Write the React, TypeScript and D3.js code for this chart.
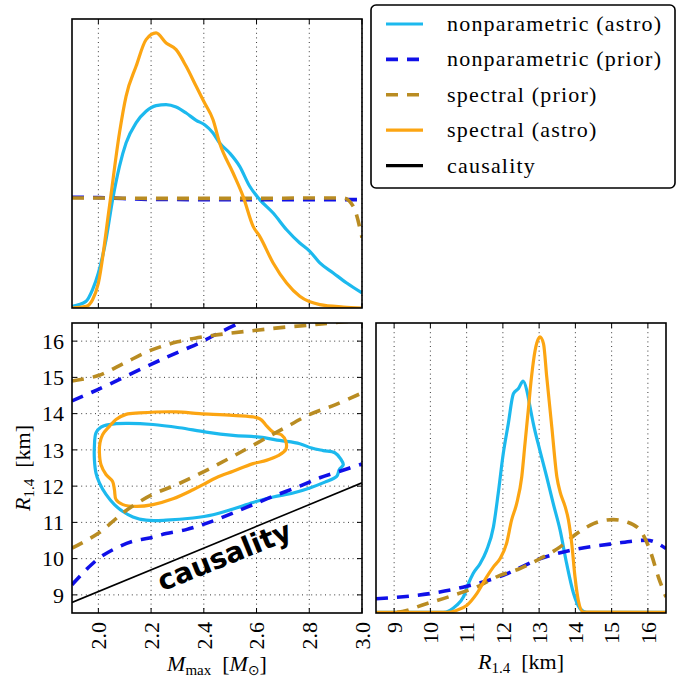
import React from 'react';
import * as d3 from 'd3';

// ---- Marginal posterior of M_max (top panel) ----
const mmaxNonparAstroM = [1.9, 1.953, 1.978, 2.0, 2.029, 2.054, 2.08, 2.105, 2.143, 2.181, 2.219, 2.257, 2.295, 2.333, 2.371, 2.403, 2.435, 2.46, 2.498, 2.536, 2.574, 2.612, 2.663, 2.714, 2.764, 2.802, 2.84, 2.891, 2.942, 3.0];
const mmaxNonparAstroP = [0.015, 0.061, 0.168, 0.321, 0.627, 0.994, 1.299, 1.513, 1.697, 1.804, 1.856, 1.865, 1.843, 1.788, 1.721, 1.681, 1.605, 1.513, 1.421, 1.299, 1.116, 0.994, 0.871, 0.718, 0.596, 0.52, 0.413, 0.321, 0.229, 0.138];
const mmaxSpectralAstroM = [1.9, 1.953, 1.978, 2.0, 2.042, 2.08, 2.105, 2.143, 2.181, 2.219, 2.257, 2.295, 2.333, 2.371, 2.403, 2.435, 2.46, 2.511, 2.549, 2.587, 2.612, 2.663, 2.714, 2.764, 2.84, 2.929, 3.0];
const mmaxSpectralAstroP = [0, 0.015, 0.076, 0.229, 0.932, 1.605, 1.941, 2.216, 2.461, 2.522, 2.43, 2.369, 2.216, 2.033, 1.88, 1.727, 1.513, 1.238, 1.024, 0.749, 0.657, 0.413, 0.229, 0.107, 0.031, 0.009, 0];
const mmaxNonparPriorM = [1.9, 2.0, 2.2, 2.4, 2.6, 2.8, 3.0];
const mmaxNonparPriorP = [1.015, 1.012, 0.996, 0.994, 0.994, 0.994, 0.994];
const mmaxSpectralPriorM = [1.9, 2.0, 2.2, 2.4, 2.6, 2.8, 2.93, 2.967, 3.0];
const mmaxSpectralPriorP = [1.009, 1.009, 1.005, 1.005, 1.005, 1.009, 1.009, 0.932, 0.645];

// ---- Marginal posterior of R_1.4 (right panel) ----
const r14NonparAstroR = [8.5, 10.35, 10.54, 10.72, 10.91, 11.05, 11.18, 11.37, 11.55, 11.74, 11.87, 12.01, 12.15, 12.29, 12.43, 12.56, 12.66, 12.75, 12.84, 13.02, 13.21, 13.39, 13.58, 13.76, 13.95, 14.13, 14.31, 16.5];
const r14NonparAstroP = [0.002, 0.002, 0.009, 0.026, 0.055, 0.101, 0.136, 0.17, 0.216, 0.297, 0.411, 0.549, 0.653, 0.756, 0.774, 0.8, 0.768, 0.71, 0.653, 0.561, 0.469, 0.377, 0.285, 0.17, 0.067, 0.015, 0.002, 0.002];
const r14SpectralAstroR = [8.5, 10.45, 10.72, 11.0, 11.28, 11.55, 11.74, 11.92, 12.1, 12.24, 12.38, 12.52, 12.61, 12.7, 12.79, 12.89, 12.98, 13.02, 13.12, 13.21, 13.35, 13.49, 13.58, 13.72, 13.81, 13.9, 13.99, 14.08, 14.22, 16.5];
const r14SpectralAstroP = [0.002, 0.002, 0.009, 0.026, 0.067, 0.124, 0.159, 0.187, 0.239, 0.32, 0.377, 0.469, 0.584, 0.699, 0.814, 0.906, 0.946, 0.952, 0.929, 0.814, 0.641, 0.469, 0.417, 0.366, 0.32, 0.239, 0.124, 0.044, 0.003, 0.002];
const r14NonparPriorR = [8.5, 9.99, 11.0, 12.01, 13.02, 13.95, 15.05, 15.97, 16.5];
const r14NonparPriorP = [0.049, 0.067, 0.092, 0.13, 0.187, 0.218, 0.239, 0.251, 0.222];
const r14SpectralPriorR = [8.5, 9.07, 9.89, 10.63, 11.28, 11.92, 12.47, 13.02, 13.58, 14.04, 14.5, 15.05, 15.42, 15.79, 16.06, 16.29, 16.5];
const r14SpectralPriorP = [0, 0.002, 0.032, 0.061, 0.09, 0.13, 0.153, 0.187, 0.228, 0.274, 0.308, 0.322, 0.314, 0.285, 0.216, 0.124, 0.055];

// ---- Joint (M_max, R_1.4) panel ----
const contourNonparM = [1.985, 1.985, 1.991, 2.01, 2.042, 2.105, 2.207, 2.308, 2.409, 2.511, 2.612, 2.688, 2.764, 2.809, 2.853, 2.897, 2.919, 2.929, 2.914, 2.904, 2.859, 2.802, 2.739, 2.663, 2.587, 2.511, 2.435, 2.359, 2.257, 2.181, 2.131, 2.093, 2.061, 2.029, 2.004, 1.991];
const contourNonparR = [12.73, 13.1, 13.47, 13.63, 13.7, 13.73, 13.7, 13.61, 13.49, 13.4, 13.35, 13.26, 13.17, 13.05, 12.98, 12.92, 12.75, 12.59, 12.46, 12.27, 12.11, 11.95, 11.81, 11.7, 11.55, 11.37, 11.21, 11.12, 11.06, 11.06, 11.15, 11.3, 11.49, 11.77, 12.09, 12.36];
const contourSpectralM = [2.004, 2.006, 2.016, 2.042, 2.067, 2.105, 2.156, 2.295, 2.384, 2.511, 2.612, 2.637, 2.663, 2.695, 2.711, 2.711, 2.682, 2.637, 2.587, 2.511, 2.447, 2.397, 2.359, 2.283, 2.207, 2.143, 2.093, 2.067, 2.061, 2.054, 2.029, 2.01];
const contourSpectralR = [12.92, 13.19, 13.42, 13.65, 13.84, 13.98, 14.02, 14.05, 14.0, 13.95, 13.86, 13.67, 13.49, 13.41, 13.24, 13.01, 12.84, 12.71, 12.62, 12.41, 12.23, 12.04, 11.9, 11.65, 11.49, 11.44, 11.49, 11.63, 11.9, 12.13, 12.32, 12.59];
const boundNonparUpperM = [1.9, 2.0, 2.2, 2.31, 2.384, 2.447, 2.536, 2.6];
const boundNonparUpperR = [14.35, 14.67, 15.36, 15.72, 15.95, 16.19, 16.51, 16.75];
const boundNonparLowerM = [1.9, 1.953, 2.004, 2.067, 2.131, 2.194, 2.257, 2.333, 2.384, 2.447, 2.511, 2.587, 2.663, 2.764, 2.84, 2.916, 3.0];
const boundNonparLowerR = [9.28, 9.69, 10.02, 10.29, 10.48, 10.57, 10.69, 10.8, 10.91, 11.07, 11.26, 11.49, 11.72, 12.0, 12.23, 12.41, 12.61];
const boundSpectralUpperM = [1.9, 2.0, 2.1, 2.2, 2.3, 2.4, 2.5, 2.6, 2.7, 2.8, 2.88, 3.0];
const boundSpectralUpperR = [14.9, 15.05, 15.4, 15.75, 15.98, 16.12, 16.22, 16.3, 16.38, 16.44, 16.5, 16.58];
const boundSpectralLowerM = [1.9, 2.0, 2.1, 2.2, 2.3, 2.4, 2.5, 2.6, 2.7, 2.8, 2.9, 3.0];
const boundSpectralLowerR = [10.29, 10.7, 11.3, 11.75, 12.05, 12.4, 12.78, 13.18, 13.58, 13.97, 14.25, 14.57];
const causalityM = [1.9, 3.0];
const causalityR = [8.79, 12.09];

// ---- Axes ----
const mTicks = [2.0, 2.2, 2.4, 2.6, 2.8, 3.0];
const rTicks = [9, 10, 11, 12, 13, 14, 15, 16];
const legendLabels = ['nonparametric (astro)', 'nonparametric (prior)', 'spectral (prior)', 'spectral (astro)', 'causality'];

const CYAN = '#1cb9ee';
const ORANGE = '#fca512';
const BLUE = '#1010e8';
const TAN = '#b98c22';
const SERIF_STYLE = { fontFamily: '"Liberation Serif"' };
const SANS_BOLD = { fontFamily: '"DejaVu Sans"', fontWeight: 'bold' as const };

const TOP = { left: 72, right: 362, top: 19, bottom: 308 };
const JOINT = { left: 72, right: 362, top: 323, bottom: 613 };
const SIDE = { left: 376, right: 666, top: 323, bottom: 613 };

type P = [number, number];
const zip = (a: number[], b: number[]): P[] => a.map((v, i) => [v, b[i]]);

const GRID = { stroke: '#222', strokeWidth: 0.9, strokeDasharray: '1,3.6' };
const TICK = 5;

export default function App() {
  const xM = d3.scaleLinear().domain([1.9, 3.0]).range([TOP.left, TOP.right]);
  const yMdens = d3.scaleLinear().domain([0, 2.65]).range([TOP.bottom, TOP.top]);
  const yR = d3.scaleLinear().domain([8.5, 16.5]).range([JOINT.bottom, JOINT.top]);
  const xR = d3.scaleLinear().domain([8.5, 16.5]).range([SIDE.left, SIDE.right]);
  const yRdens = d3.scaleLinear().domain([0, 1]).range([SIDE.bottom, SIDE.top]);

  const topLine = d3.line<P>().x(d => xM(d[0])).y(d => yMdens(d[1])).curve(d3.curveMonotoneX);
  const sideLine = d3.line<P>().x(d => xR(d[0])).y(d => yRdens(d[1])).curve(d3.curveMonotoneX);
  const jointLine = d3.line<P>().x(d => xM(d[0])).y(d => yR(d[1])).curve(d3.curveCatmullRom.alpha(0.5));
  const jointStraight = d3.line<P>().x(d => xM(d[0])).y(d => yR(d[1]));
  const contour = d3.line<P>().x(d => xM(d[0])).y(d => yR(d[1])).curve(d3.curveCatmullRomClosed.alpha(0.5));

  const solid = (color: string) => ({ fill: 'none', stroke: color, strokeWidth: 3.2, strokeLinejoin: 'round' as const });
  const dashed = (color: string) => ({ fill: 'none', stroke: color, strokeWidth: 3.6, strokeDasharray: '12,9' });

  const xTicksFor = (ticks: number[], sx: (v: number) => number, box: typeof TOP, keyP: string) =>
    ticks.map(t => (
      <g key={keyP + t}>
        <line x1={sx(t)} x2={sx(t)} y1={box.bottom} y2={box.bottom - TICK} stroke="#000" strokeWidth={1} />
        <line x1={sx(t)} x2={sx(t)} y1={box.top} y2={box.top + TICK} stroke="#000" strokeWidth={1} />
      </g>
    ));

  const frame = (box: typeof TOP) => (
    <rect x={box.left} y={box.top} width={box.right - box.left} height={box.bottom - box.top} fill="none" stroke="#000" strokeWidth={1.6} />
  );

  const legendRows = [
    { label: legendLabels[0], style: solid(CYAN) },
    { label: legendLabels[1], style: dashed(BLUE) },
    { label: legendLabels[2], style: dashed(TAN) },
    { label: legendLabels[3], style: solid(ORANGE) },
    { label: legendLabels[4], style: { fill: 'none', stroke: '#000', strokeWidth: 3.2 } },
  ];

  return (
    <svg width={677} height={677} style={{ position: 'absolute', left: 0, top: 0, background: '#fff' }}>
      <defs>
        <clipPath id="clip-top"><rect x={TOP.left} y={TOP.top} width={TOP.right - TOP.left} height={TOP.bottom - TOP.top} /></clipPath>
        <clipPath id="clip-joint"><rect x={JOINT.left} y={JOINT.top} width={JOINT.right - JOINT.left} height={JOINT.bottom - JOINT.top} /></clipPath>
        <clipPath id="clip-side"><rect x={SIDE.left} y={SIDE.top} width={SIDE.right - SIDE.left} height={SIDE.bottom - SIDE.top} /></clipPath>
      </defs>
      <rect width={677} height={677} fill="#fff" />

      {/* Top: M_max marginal */}
      {mTicks.map(t => <line key={'tg' + t} x1={xM(t)} x2={xM(t)} y1={TOP.top} y2={TOP.bottom} {...GRID} />)}
      <g clipPath="url(#clip-top)">
        <path d={topLine(zip(mmaxNonparAstroM, mmaxNonparAstroP)) || ''} {...solid(CYAN)} />
        <path d={topLine(zip(mmaxNonparPriorM, mmaxNonparPriorP)) || ''} {...dashed(BLUE)} />
        <path d={topLine(zip(mmaxSpectralPriorM, mmaxSpectralPriorP)) || ''} {...dashed(TAN)} />
        <path d={topLine(zip(mmaxSpectralAstroM, mmaxSpectralAstroP)) || ''} {...solid(ORANGE)} />
      </g>
      {xTicksFor(mTicks, xM, TOP, 'tt')}
      {frame(TOP)}

      {/* Joint panel */}
      {mTicks.map(t => <line key={'jg' + t} x1={xM(t)} x2={xM(t)} y1={JOINT.top} y2={JOINT.bottom} {...GRID} />)}
      {rTicks.map(t => <line key={'jh' + t} x1={JOINT.left} x2={JOINT.right} y1={yR(t)} y2={yR(t)} {...GRID} />)}
      <g clipPath="url(#clip-joint)">
        <path d={contour(zip(contourNonparM, contourNonparR)) || ''} {...solid(CYAN)} />
        <path d={contour(zip(contourSpectralM, contourSpectralR)) || ''} {...solid(ORANGE)} />
        <path d={jointLine(zip(boundNonparUpperM, boundNonparUpperR)) || ''} {...dashed(BLUE)} />
        <path d={jointLine(zip(boundNonparLowerM, boundNonparLowerR)) || ''} {...dashed(BLUE)} />
        <path d={jointLine(zip(boundSpectralUpperM, boundSpectralUpperR)) || ''} {...dashed(TAN)} />
        <path d={jointLine(zip(boundSpectralLowerM, boundSpectralLowerR)) || ''} {...dashed(TAN)} />
        <path d={jointStraight(zip(causalityM, causalityR)) || ''} fill="none" stroke="#000" strokeWidth={1.6} />
      </g>
      <text transform="translate(228,565) rotate(-22)" textAnchor="middle" style={SANS_BOLD} fontSize={28} fill="#000">
        causality
      </text>
      {xTicksFor(mTicks, xM, JOINT, 'jt')}
      {rTicks.map(t => (
        <g key={'jy' + t}>
          <line x1={JOINT.left} x2={JOINT.left + TICK} y1={yR(t)} y2={yR(t)} stroke="#000" strokeWidth={1} />
          <line x1={JOINT.right} x2={JOINT.right - TICK} y1={yR(t)} y2={yR(t)} stroke="#000" strokeWidth={1} />
          <text x={64} y={yR(t)} dy="0.35em" textAnchor="end" fontSize={22} style={SERIF_STYLE}>{t}</text>
        </g>
      ))}
      {mTicks.map(t => (
        <text key={'jxl' + t} transform={`translate(${xM(t)},622) rotate(-90)`} dy="0.35em" textAnchor="end" fontSize={22} style={SERIF_STYLE}>
          {t.toFixed(1)}
        </text>
      ))}
      {frame(JOINT)}
      <text x={(JOINT.left + JOINT.right) / 2} y={671} textAnchor="middle" fontSize={22} style={SERIF_STYLE}>
        <tspan fontStyle="italic">M</tspan>
        <tspan fontSize={15} dy={4}>max</tspan>
        <tspan dy={-4}>{'\u2002['}</tspan>
        <tspan fontStyle="italic">M</tspan>
        <tspan fontSize={14} dy={4} style={{ fontFamily: '"DejaVu Sans"' }}>{'\u2299'}</tspan>
        <tspan dy={-4}>]</tspan>
      </text>
      <text transform={`translate(30,${(JOINT.top + JOINT.bottom) / 2}) rotate(-90)`} textAnchor="middle" fontSize={22} style={SERIF_STYLE}>
        <tspan fontStyle="italic">R</tspan>
        <tspan fontSize={15} dy={4}>1.4</tspan>
        <tspan dy={-4}>{'\u2002[km]'}</tspan>
      </text>

      {/* Side: R_1.4 marginal */}
      {rTicks.map(t => <line key={'sg' + t} x1={xR(t)} x2={xR(t)} y1={SIDE.top} y2={SIDE.bottom} {...GRID} />)}
      <g clipPath="url(#clip-side)">
        <path d={sideLine(zip(r14NonparAstroR, r14NonparAstroP)) || ''} {...solid(CYAN)} />
        <path d={sideLine(zip(r14NonparPriorR, r14NonparPriorP)) || ''} {...dashed(BLUE)} />
        <path d={sideLine(zip(r14SpectralPriorR, r14SpectralPriorP)) || ''} {...dashed(TAN)} />
        <path d={sideLine(zip(r14SpectralAstroR, r14SpectralAstroP)) || ''} {...solid(ORANGE)} />
      </g>
      {xTicksFor(rTicks, xR, SIDE, 'st')}
      {rTicks.map(t => (
        <text key={'sxl' + t} transform={`translate(${xR(t)},622) rotate(-90)`} dy="0.35em" textAnchor="end" fontSize={22} style={SERIF_STYLE}>
          {t}
        </text>
      ))}
      {frame(SIDE)}
      <text x={(SIDE.left + SIDE.right) / 2} y={669} textAnchor="middle" fontSize={22} style={SERIF_STYLE}>
        <tspan fontStyle="italic">R</tspan>
        <tspan fontSize={15} dy={4}>1.4</tspan>
        <tspan dy={-4}>{'\u2002[km]'}</tspan>
      </text>

      {/* Legend */}
      <rect x={371} y={5} width={304} height={183} rx={5} fill="#fff" stroke="#000" strokeWidth={1.6} />
      {legendRows.map((row, i) => {
        const y = 24 + i * 35.4;
        return (
          <g key={'lg' + i}>
            <line x1={386} x2={423} y1={y} y2={y} {...row.style} />
            <text x={447} y={y} dy="0.32em" fontSize={22} letterSpacing={1.2} style={SERIF_STYLE}>{row.label}</text>
          </g>
        );
      })}
    </svg>
  );
}
